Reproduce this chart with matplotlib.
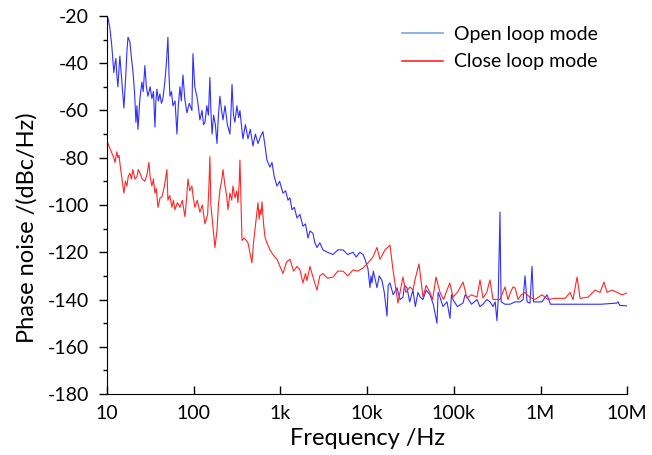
import matplotlib
matplotlib.use("Agg")
import matplotlib.pyplot as plt
from matplotlib.lines import Line2D

plt.rcParams["font.family"] = ["Lato", "DejaVu Sans"]
plt.rcParams["axes.unicode_minus"] = False

# open loop mode (blue)
open_freq = [10.3, 10.8, 11.4, 12.0, 12.4, 12.7, 13.0, 13.4, 13.8, 14.1,
             14.9, 15.7, 16.5, 17.0, 17.5, 18.4, 19.2, 19.9, 20.8, 21.6,
             22.2, 22.8, 24.0, 25.3, 26.2, 27.4, 28.5, 29.7, 31.5, 33.0,
             34.4, 35.8, 36.7, 37.7, 39.2, 40.8, 42.5, 44.2, 46.5, 48.5,
             50.5, 52.0, 53.3, 55.5, 57.7, 61.0, 64.2, 66.5, 69.5, 72.0,
             75.3, 79.0, 83.7, 89.0, 95.5, 98.2, 103, 109, 113, 118,
             125, 130, 135, 142, 148, 154, 158, 163, 170, 178,
             186, 193, 201, 210, 218, 230, 245, 262, 270, 277,
             288, 299, 315, 330, 342, 355, 370, 395, 423, 450,
             483, 515, 552, 590, 630, 660, 700, 758, 800, 850,
             914, 980, 1072, 1150, 1224, 1290, 1362, 1450, 1554, 1680,
             1822, 1950, 2081, 2200, 2376, 2500, 2644, 2850, 3098, 3500,
             4043, 4600, 5275, 6000, 6874, 7500, 8276, 9000, 9463, 10240,
             10800, 11100, 11400, 11800, 12330, 13000, 13800, 14860, 15800, 16980,
             17500, 18380, 20000, 22130, 24000, 25940, 27000, 28840, 31000, 33820,
             36000, 38630, 41000, 44150, 48000, 53110, 58000, 63980, 66000, 69310,
             75000, 83510, 90390, 94000, 97900, 110000, 127700, 135000, 142000, 160000,
             185300, 200000, 217300, 240000, 261400, 283100, 300000, 314700, 325000, 336000,
             341100, 346000, 352000, 389600, 445000, 508000, 580400, 630000, 662400, 700000,
             756600, 797700, 830000, 1.04e6, 1.19e6, 1.30e6, 1.47e6, 2.2e6, 3.5e6, 5.0e6,
             7.63e6, 7.83e6, 8.2e6, 9.95e6]
open_db = [-21, -25, -33, -44, -40, -38, -45, -50, -42, -37,
           -48, -59, -45, -35, -29, -31, -38, -43, -52, -65,
           -58, -68, -55, -48, -52, -41, -50, -54, -50, -55,
           -52, -67, -56, -51, -56, -53, -57, -55, -48, -40,
           -29, -45, -54, -52, -58, -56, -70, -58, -50, -56,
           -45, -55, -61, -57, -60, -36, -50, -54, -58, -64,
           -60, -66, -65, -58, -62, -46, -60, -70, -62, -66,
           -74, -62, -54, -60, -64, -58, -66, -70, -60, -49,
           -62, -65, -58, -63, -60, -66, -72, -66, -72, -68,
           -75, -70, -74, -71, -69, -74, -81, -84, -82, -88,
           -92, -90, -95, -94, -98, -97, -102, -101, -105.5, -104,
           -109, -108, -114, -111, -112, -116, -118, -116, -119, -120,
           -121, -119, -119, -121, -120, -122, -120, -121, -123, -127,
           -135, -130, -133, -128, -131, -135, -130, -132, -137, -147,
           -134, -133, -138, -135, -140, -139, -134, -135, -141, -136,
           -143, -137, -139, -140, -136, -138, -142, -150, -137, -139,
           -143, -141, -148, -138, -140, -143, -141.5, -138, -139, -142,
           -140, -143, -142, -140, -141, -143, -141, -149, -140, -115,
           -103, -125, -141, -142, -142, -141, -141, -140, -130, -141,
           -141.5, -126, -141, -141, -138, -142, -142, -142, -142, -142,
           -141.5, -141, -142.5, -142.7]

# close loop mode (red)
close_freq = [10.3, 10.8, 11.4, 12.0, 12.4, 13.0, 13.4, 13.8, 14.3, 14.9,
              15.3, 15.7, 16.3, 17.0, 17.6, 18.4, 19.2, 19.9, 21.0, 22.2,
              23.0, 24.0, 25.5, 27.4, 29.0, 30.5, 31.5, 33.0, 34.4, 35.8,
              37.0, 38.8, 41.0, 43.1, 46.0, 49.2, 50.5, 53.0, 56.2, 58.5,
              60.9, 65.0, 69.5, 74.0, 79.4, 83.0, 86.0, 90.0, 95.5, 99.0,
              103.5, 110, 118, 126, 135, 145, 150, 154, 158, 167,
              176, 186, 193, 201, 210, 218, 230, 240, 249, 262,
              275, 284, 300, 315, 324, 334, 342, 352, 361, 385,
              423, 445, 470, 490, 509, 530, 552, 570, 582, 600,
              614, 640, 664, 700, 758, 820, 914, 990, 1072, 1180,
              1291, 1420, 1554, 1683, 1822, 1950, 2028, 2194, 2400,
              2644, 2850, 3098, 3500, 4043, 4600, 5275, 6000, 6874, 7800,
              8973, 10240, 11700, 13000, 14090, 16080, 18380, 19910, 22710, 25940,
              28000, 31250, 33820, 36000, 39690, 44150, 48000, 53110, 57000, 62340,
              69310, 76000, 83510, 90000, 97900, 110000, 127700, 142000, 160000, 185300,
              200600, 217300, 240000, 261400, 283100, 341100, 389600, 422100, 450000, 481800,
              508000, 549900, 600000, 662400, 750000, 863800, 1.04e6, 1.22e6, 1.47e6, 1.92e6,
              2.19e6, 2.37e6, 2.64e6, 2.86e6, 3.53e6, 4.26e6, 4.86e6, 5.40e6, 5.85e6, 6.68e6,
              7.63e6, 8.71e6, 9.95e6]
close_db = [-74, -76, -78, -80, -82, -77.5, -80, -79, -84, -89,
            -92, -95, -90, -92, -88, -86.5, -89, -85, -89, -88,
            -85, -86.5, -89, -90, -87, -82, -88, -92, -89, -95,
            -93, -101, -97, -96.5, -92, -85, -98, -96, -101, -98,
            -102, -99, -101, -98, -105, -97, -89, -94, -92, -97,
            -101, -98, -103, -100, -108, -104, -92, -79.5, -100, -109,
            -118, -110.6, -100, -93.6, -90, -85, -92, -96, -102, -95,
            -98, -92, -97, -94, -99, -92, -81, -100, -115, -114,
            -116, -120, -124.5, -116, -110.6, -105, -99, -106, -102, -104,
            -98.7, -108, -113.5, -116, -119, -121, -123, -126, -129, -124,
            -123, -128, -126, -127.5, -133, -129, -132, -126, -131,
            -136, -130, -129, -131, -130.5, -128, -128, -130, -127.5, -128,
            -126.7, -124.5, -122, -118, -123, -119, -117, -127.5, -141.5, -130.5,
            -137, -134.7, -136, -131, -125, -139, -134, -137, -140, -130.5,
            -137, -140, -136, -133, -139, -137, -132.6, -139.4, -138, -139,
            -131.7, -139.4, -137, -131.7, -140, -140, -134.7, -140, -137, -134.7,
            -135, -140, -138, -137, -139, -140, -138, -140, -139.5, -139.5,
            -137, -140, -130.5, -139.5, -139, -136, -137, -132.6, -137, -136,
            -137, -138, -137.3]

x_ticks = [10, 100, 1e3, 1e4, 1e5, 1e6, 1e7]
x_labels = ["10", "100", "1k", "10k", "100k", "1M", "10M"]

fig = plt.figure(figsize=(6.52, 4.55), dpi=100)
ax = fig.add_axes([0.164, 0.134, 0.798, 0.831])

ax.plot(open_freq, open_db, color="#2f2fff", lw=0.8)
ax.plot(close_freq, close_db, color="#ff2626", lw=0.8)

ax.set_xscale("log")
ax.set_xlim(10, 1e7)
ax.set_ylim(-180, -20)
ax.set_xticks(x_ticks)
ax.set_xticklabels(x_labels)
ax.xaxis.set_minor_locator(matplotlib.ticker.NullLocator())
ax.set_yticks(range(-180, -19, 20))
ax.set_yticks(range(-170, -20, 20), minor=True)

for s in ["top", "right"]:
    ax.spines[s].set_visible(False)
ax.tick_params(axis="x", direction="in", length=6, width=1, labelsize=14, pad=8)
ax.tick_params(axis="y", which="major", direction="out", length=6, width=1, labelsize=14, pad=7)
ax.tick_params(axis="y", which="minor", direction="out", length=3, width=1)

ax.set_xlabel("Frequency /Hz", fontsize=17)
ax.set_ylabel("Phase noise /(dBc/Hz)", fontsize=17)
ax.xaxis.set_label_coords(0.5, -0.09)
ax.yaxis.set_label_coords(-0.133, 0.44)

handles = [Line2D([], [], color="#7aa6da", lw=1.2),
           Line2D([], [], color="#ff2626", lw=1.2)]
ax.legend(handles, ["Open loop mode", "Close loop mode"], loc="upper left",
          bbox_to_anchor=(0.548, 1.0), frameon=False, fontsize=14,
          borderpad=0, handlelength=2.1, handletextpad=0.6, labelspacing=0.55)

fig.savefig("out.png", dpi=100)
